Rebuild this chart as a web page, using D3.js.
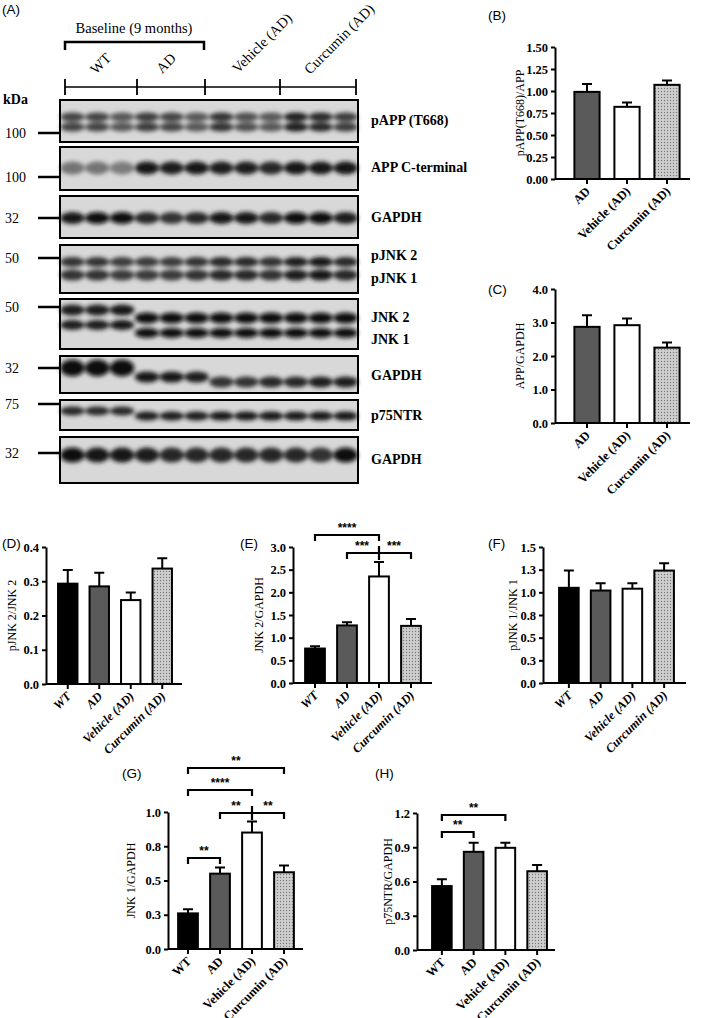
<!DOCTYPE html>
<html><head><meta charset="utf-8">
<script src="https://cdn.jsdelivr.net/npm/d3@7"></script>
<style>body{margin:0;background:#fff}svg{display:block}</style>
</head><body>
<script>
// ---------- DATA ----------
const groups4 = ["WT","AD","Vehicle (AD)","Curcumin (AD)"];
const groups3 = ["AD","Vehicle (AD)","Curcumin (AD)"];
const bVals = [0.99,0.82,1.07], bErr = [0.09,0.05,0.05];
const cVals = [2.87,2.92,2.25], cErr = [0.35,0.20,0.15];
const dVals = [0.293,0.285,0.245,0.337], dErr = [0.040,0.040,0.022,0.030];
const eVals = [0.76,1.27,2.35,1.26], eErr = [0.05,0.07,0.32,0.15];
const fVals = [1.05,1.02,1.04,1.24], fErr = [0.19,0.08,0.06,0.08];
const gVals = [0.26,0.55,0.85,0.56], gErr = [0.03,0.045,0.08,0.05];
const hVals = [0.56,0.86,0.895,0.69], hErr = [0.06,0.08,0.045,0.055];
const ticksB = [0,0.25,0.5,0.75,1.0,1.25,1.5];
const ticksC = [0,1,2,3,4];
const ticksD = [0,0.1,0.2,0.3,0.4];
const ticksE = [0,0.5,1,1.5,2,2.5,3];
const ticksF = [0,0.25,0.5,0.75,1,1.25,1.5];
const ticksG = [0,0.25,0.5,0.75,1];
const ticksH = [0,0.3,0.6,0.9,1.2];
// blot
const lanes = d3.range(12);
const kdaLabels = ["100","100","32","50","50","32","75","32"];
const bandI_pAPP = [.7,.7,.6,.75,.7,.6,.8,.65,.6,.9,.85,.75];
const bandI_APP = [.45,.45,.4,.95,.9,.95,.9,.9,.85,.95,.95,.95];
const bandI_GAPDH1 = [.95,1,1,.85,.8,.85,.95,.95,.85,1,1,.9];
const bandI_pJNK = [.8,.8,.75,.75,.75,.8,.85,.85,.8,.9,.95,.85];
const bandI_JNK = [.9,.9,.95,1,1,1,1,1,1,1,1,1];
const bandI_GAPDH2 = [1,1,1,.95,.95,.9,.8,.8,.85,.85,.9,.9];
const bandI_p75 = [.85,.85,.85,.9,.9,.9,.95,.95,.95,.95,.95,.95];
const bandI_GAPDH3 = [1,.95,.95,.9,.85,.85,.85,.85,.85,.85,.8,1];

const W=702,H=1018;
const svg=d3.select("body").append("svg").attr("width",W).attr("height",H);
const defs=svg.append("defs");
const pat=defs.append("pattern").attr("id","dots").attr("width",3).attr("height",3).attr("patternUnits","userSpaceOnUse");
pat.append("rect").attr("width",3).attr("height",3).attr("fill","#cfcfcf");
pat.append("circle").attr("cx",1.5).attr("cy",1.5).attr("r",0.7).attr("fill","#7a7a7a");
defs.append("filter").attr("id","blur").attr("x","-30%").attr("y","-50%").attr("width","160%").attr("height","200%")
  .append("feGaussianBlur").attr("stdDeviation",2);
const fills={"WT":"#000","AD":"#5a5a5a","Vehicle (AD)":"#fff","Curcumin (AD)":"url(#dots)"};
const serif="'Liberation Serif','DejaVu Serif',serif", sans="'Liberation Sans',Arial,sans-serif";

function lab(t,x,y){svg.append("text").attr("x",x).attr("y",y).attr("font-family",sans).attr("font-size",13.5).text(t);}

// ---------- PANEL A (blot) ----------
lab("(A)",2,14);
const lx=d3.scaleBand().domain(lanes).range([60,358]).paddingInner(0.1).paddingOuter(0.05);
const rows=[
 {y0:100,y1:142,bands:[{i:bandI_pAPP,y:()=>117,h:7},{i:bandI_pAPP,y:()=>127,h:7}],kda:133,lbl:[{t:"pAPP (T668)",y:125}]},
 {y0:147,y1:190,bands:[{i:bandI_APP,y:()=>168,h:11}],kda:177,lbl:[{t:"APP C-terminal",y:172}]},
 {y0:196,y1:238,bands:[{i:bandI_GAPDH1,y:()=>218,h:10}],kda:218,lbl:[{t:"GAPDH",y:222}]},
 {y0:245,y1:293,bands:[{i:bandI_pJNK,y:()=>262,h:8},{i:bandI_pJNK,y:()=>275,h:9}],kda:258,lbl:[{t:"pJNK 2",y:260},{t:"pJNK 1",y:283}]},
 {y0:299,y1:349,bands:[{i:bandI_JNK,y:l=>l<3?310:318,h:9},{i:bandI_JNK,y:l=>l<3?325:333,h:8}],kda:307,lbl:[{t:"JNK 2",y:322},{t:"JNK 1",y:344}]},
 {y0:356,y1:393,bands:[{i:bandI_GAPDH2,y:l=>l<3?368:(l<6?377:382),h:l=>l<3?15:9}],kda:368,lbl:[{t:"GAPDH",y:380}]},
 {y0:400,y1:430,bands:[{i:bandI_p75,y:l=>l<3?411:416,h:7}],kda:404,lbl:[{t:"p75NTR",y:420}]},
 {y0:437,y1:483,bands:[{i:bandI_GAPDH3,y:()=>455,h:13}],kda:453,lbl:[{t:"GAPDH",y:464}]}
];
const gray=d3.scaleLinear().domain([0,1]).range([200,10]);
rows.forEach(r=>{
  svg.append("rect").attr("x",60).attr("y",r.y0).attr("width",298).attr("height",r.y1-r.y0).attr("fill","#d8d8d8");
  const g=svg.append("g").attr("filter","url(#blur)");
  r.bands.forEach(b=>{
    g.selectAll(null).data(lanes).join("ellipse")
     .attr("cx",l=>lx(l)+lx.bandwidth()/2).attr("cy",l=>b.y(l))
     .attr("rx",lx.bandwidth()/2+1).attr("ry",l=>(typeof b.h==="function"?b.h(l):b.h)/2+1)
     .attr("fill",l=>{const v=Math.round(gray(b.i[l]));return `rgb(${v},${v},${v})`;});
  });
  svg.append("rect").attr("x",60).attr("y",r.y0).attr("width",298).attr("height",r.y1-r.y0).attr("fill","none").attr("stroke","#000").attr("stroke-width",2);
  svg.append("line").attr("x1",38).attr("x2",60).attr("y1",r.kda).attr("y2",r.kda).attr("stroke","#000").attr("stroke-width",2.5);
  r.lbl.forEach(o=>svg.append("text").attr("x",371).attr("y",o.y).attr("font-family",serif).attr("font-weight","bold").attr("font-size",14).text(o.t));
});
rows.forEach((r,i)=>svg.append("text").attr("x",5).attr("y",r.kda+5).attr("font-family",serif).attr("font-size",14).text(kdaLabels[i]));
svg.append("text").attr("x",3).attr("y",104).attr("font-family",serif).attr("font-weight","bold").attr("font-size",14).text("kDa");
const gb=[65,137,205,280,356];
svg.append("line").attr("x1",65).attr("x2",356).attr("y1",87).attr("y2",87).attr("stroke","#000").attr("stroke-width",1.5);
gb.forEach(x=>svg.append("line").attr("x1",x).attr("x2",x).attr("y1",79).attr("y2",95).attr("stroke","#000").attr("stroke-width",1.8));
svg.append("path").attr("d","M65,50V42H204V50").attr("fill","none").attr("stroke","#000").attr("stroke-width",2.5);
svg.append("text").attr("x",134).attr("y",33).attr("text-anchor","middle").attr("font-family",serif).attr("font-size",14.5).text("Baseline (9 months)");
const hdrPos=[[96,75],[162,74],[238,74],[310,75]];
groups4.forEach((gname,i)=>{
  svg.append("text").attr("transform",`translate(${hdrPos[i][0]},${hdrPos[i][1]}) rotate(-45)`).attr("font-family",serif).attr("font-size",14.5).text(gname);
});

// ---------- BAR PANELS ----------
function panel(o){
  const x=d3.scaleBand().domain(o.cats).range([o.bx0,o.bx1]).paddingInner(o.pad).paddingOuter(o.pad/2);
  const y=d3.scaleLinear().domain([0,o.max]).range([o.y0,o.ytop]);
  const g=svg.append("g");
  g.append("g").attr("transform",`translate(${o.ax},0)`).call(d3.axisLeft(y).tickValues(o.ticks).tickFormat(d3.format(o.fmt)).tickSize(4).tickSizeOuter(0))
   .call(s=>{s.select(".domain").attr("stroke-width",2);s.selectAll(".tick line").attr("stroke-width",2);
     s.selectAll("text").attr("font-family",serif).attr("font-weight","bold").attr("font-size",12.5).attr("fill","#000");});
  const xa=g.append("g").attr("transform",`translate(0,${o.y0})`).call(d3.axisBottom(x).tickSize(5).tickSizeOuter(0));
  xa.select(".domain").attr("d",`M${o.ax},0H${o.axEnd}`).attr("stroke-width",2);
  xa.selectAll(".tick line").attr("stroke-width",2);
  xa.selectAll("text").attr("font-family",serif).attr("font-weight","bold").attr("font-style",o.ital?"italic":"normal")
    .attr("font-size",12.5).attr("fill","#000").attr("text-anchor","end").attr("dy",0).attr("y",0)
    .attr("transform","translate(4,13) rotate(-45)");
  const d=o.cats.map((c,i)=>({c,v:o.vals[i],e:o.err[i]}));
  g.selectAll(".eb").data(d).join("path").attr("d",p=>{const cx=x(p.c)+x.bandwidth()/2;return `M${cx},${y(p.v)}V${y(p.v+p.e)}M${cx-5},${y(p.v+p.e)}H${cx+5}`;})
   .attr("stroke","#000").attr("stroke-width",2);
  g.selectAll(".bar").data(d).join("rect").attr("x",p=>x(p.c)+1).attr("width",x.bandwidth()-2)
   .attr("y",p=>y(p.v)).attr("height",p=>o.y0-y(p.v)).attr("fill",p=>fills[p.c]).attr("stroke","#000").attr("stroke-width",2);
  svg.append("text").attr("transform",`translate(${o.tx},${(o.y0+o.ytop)/2}) rotate(-90)`).attr("text-anchor","middle")
   .attr("font-family",serif).attr("font-size",12).text(o.title);
  (o.sig||[]).forEach(s=>{
    const xa1=x(o.cats[s.a])+x.bandwidth()/2, xb=x(o.cats[s.b])+x.bandwidth()/2;
    let p=`M${xa1},${s.y+6}V${s.y}H${xb}V${s.y+6}`;
    if(s.mid!==undefined){const xm=x(o.cats[s.mid])+x.bandwidth()/2;p+=`M${xm},${s.y-7}V${s.y+7}`;}
    svg.append("path").attr("d",p).attr("fill","none").attr("stroke","#000").attr("stroke-width",2.2);
    (s.stars||[{t:s.t,x:(xa1+xb)/2}]).forEach(st=>svg.append("text").attr("x",st.x).attr("y",s.y-3).attr("text-anchor","middle")
      .attr("font-family",sans).attr("font-weight","bold").attr("font-size",12).text(st.t));
  });
}
lab("(B)",488,20);
panel({cats:groups3,vals:bVals,err:bErr,ticks:ticksB,max:1.5,fmt:".2f",ax:555,axEnd:690,bx0:567,bx1:687,pad:0.32,y0:179,ytop:47,tx:524,title:"pAPP(T668)/APP"});
lab("(C)",488,294);
panel({cats:groups3,vals:cVals,err:cErr,ticks:ticksC,max:4,fmt:".1f",ax:555,axEnd:690,bx0:567,bx1:687,pad:0.32,y0:423,ytop:289,tx:524,title:"APP/GAPDH"});
lab("(D)",2,548);
panel({cats:groups4,vals:dVals,err:dErr,ticks:ticksD,max:0.4,fmt:".1f",ax:46,axEnd:182,bx0:52,bx1:178,pad:0.32,y0:684,ytop:547,tx:16,title:"pJNK 2/JNK 2",ital:true});
lab("(E)",240,548);
panel({cats:groups4,vals:eVals,err:eErr,ticks:ticksE,max:3,fmt:".1f",ax:293,axEnd:432,bx0:299,bx1:427,pad:0.32,y0:683,ytop:547,tx:263,title:"JNK 2/GAPDH",ital:true,
  sig:[{a:0,b:2,y:535,t:"****"},{a:1,b:3,mid:2,y:553,stars:[{t:"***",x:362},{t:"***",x:394}]}]});
lab("(F)",488,548);
panel({cats:groups4,vals:fVals,err:fErr,ticks:ticksF,max:1.5,fmt:".1f",ax:543,axEnd:686,bx0:553,bx1:680,pad:0.32,y0:683,ytop:547,tx:517,title:"pJNK 1/JNK 1",ital:true});
lab("(G)",122,778);
panel({cats:groups4,vals:gVals,err:gErr,ticks:ticksG,max:1,fmt:".1f",ax:168,axEnd:303,bx0:172,bx1:300,pad:0.32,y0:949,ytop:812,tx:135,title:"JNK 1/GAPDH",
  sig:[{a:0,b:1,y:858,t:"**"},{a:1,b:3,mid:2,y:813,stars:[{t:"**",x:236},{t:"**",x:268}]},{a:0,b:2,y:790,t:"****"},{a:0,b:3,y:768,t:"**"}]});
lab("(H)",375,778);
panel({cats:groups4,vals:hVals,err:hErr,ticks:ticksH,max:1.2,fmt:".1f",ax:417,axEnd:555,bx0:426,bx1:553,pad:0.32,y0:950,ytop:813,tx:392,title:"p75NTR/GAPDH",
  sig:[{a:0,b:1,y:832,t:"**"},{a:0,b:2,y:815,t:"**"}]});
</script>
</body></html>
